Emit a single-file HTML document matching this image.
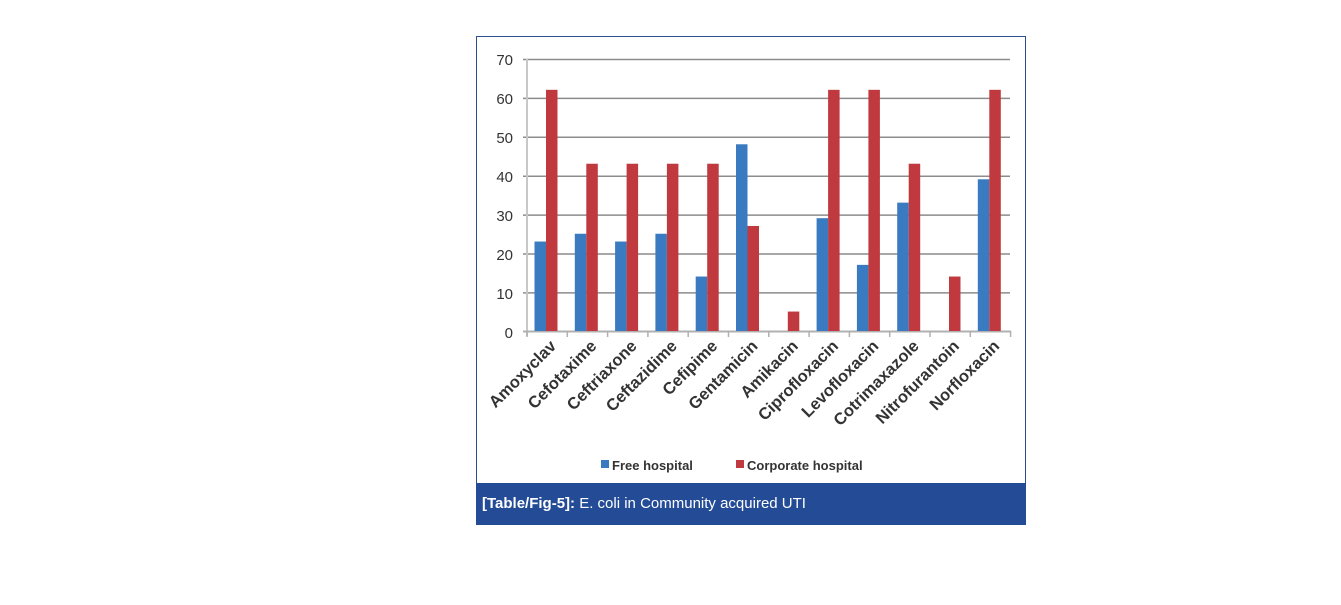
<!DOCTYPE html>
<html><head><style>
body{margin:0;background:#fff;width:1341px;height:605px;position:relative;font-family:"Liberation Sans",sans-serif}
.box{position:absolute;left:476px;top:36px;width:550px;height:488px;border:1px solid #2a4f8f;box-sizing:border-box}
.cap{position:absolute;left:476px;top:483px;width:550px;height:42px;background:#234b96;color:#fff;font-size:15px;line-height:42px;padding-left:6px;box-sizing:border-box}
</style></head><body>
<div class="box"></div>
<svg width="1341" height="605" style="position:absolute;left:0;top:0">
<g stroke="#8c8c8c" stroke-width="1.5">
<line x1="523" y1="59.5" x2="1010" y2="59.5"/><line x1="523" y1="98.4" x2="1010" y2="98.4"/>
<line x1="523" y1="137.3" x2="1010" y2="137.3"/><line x1="523" y1="176.2" x2="1010" y2="176.2"/>
<line x1="523" y1="215.1" x2="1010" y2="215.1"/><line x1="523" y1="254" x2="1010" y2="254"/>
<line x1="523" y1="292.9" x2="1010" y2="292.9"/>
</g>
<line x1="527" y1="59" x2="527" y2="336" stroke="#c8c8c8" stroke-width="2"/>
<line x1="523" y1="331.5" x2="1011" y2="331.5" stroke="#b0b0b0" stroke-width="2"/>
<g stroke="#b0b0b0" stroke-width="1.5" id="ticks"></g>
<g font-size="15" fill="#333" text-anchor="end">
<text x="513" y="65">70</text><text x="513" y="104">60</text><text x="513" y="143">50</text><text x="513" y="182">40</text><text x="513" y="221">30</text><text x="513" y="260">20</text><text x="513" y="299">10</text><text x="513" y="338">0</text>
</g>
<g id="bars"></g>
<g id="labels" font-size="16.5" font-weight="bold" fill="#333" text-anchor="end"></g>
<rect x="601" y="460" width="8" height="8" fill="#3a7ac0"/>
<text x="612" y="470" font-size="13" font-weight="bold" fill="#333">Free hospital</text>
<rect x="736" y="460" width="8" height="8" fill="#c0393f"/>
<text x="747" y="470" font-size="13" font-weight="bold" fill="#333">Corporate hospital</text>
</svg>
<div class="cap"><b>[Table/Fig-5]:</b> E. coli in Community acquired UTI</div>
<script>
var names=["Amoxyclav","Cefotaxime","Ceftriaxone","Ceftazidime","Cefipime","Gentamicin","Amikacin","Ciprofloxacin","Levofloxacin","Cotrimaxazole","Nitrofurantoin","Norfloxacin"];
var b=[23,25,23,25,14,48,0,29,17,33,0,39],r=[62,43,43,43,43,27,5,62,62,43,14,62];
var s="";
var w=40.3,x0=527,y0=331,k=3.89;
for(var i=0;i<12;i++){var c=x0+w*i;
if(b[i])s+='<rect x="'+(c+7.5)+'" y="'+(y0-b[i]*k)+'" width="11.5" height="'+(b[i]*k)+'" fill="#3a7ac0"/>';
s+='<rect x="'+(c+19)+'" y="'+(y0-r[i]*k)+'" width="11.5" height="'+(r[i]*k)+'" fill="#c0393f"/>';}
document.getElementById("bars").innerHTML=s;
var t="";for(var i=0;i<=12;i++){var x=x0+w*i;t+='<line x1="'+x+'" y1="331" x2="'+x+'" y2="337"/>';}
document.getElementById("ticks").innerHTML=t;
var l="";for(var i=0;i<12;i++){var x=x0+w*i+w/2+10,y=347;l+='<text transform="translate('+x+','+y+') rotate(-45)">'+names[i]+'</text>';}
document.getElementById("labels").innerHTML=l;
</script>
</body></html>
